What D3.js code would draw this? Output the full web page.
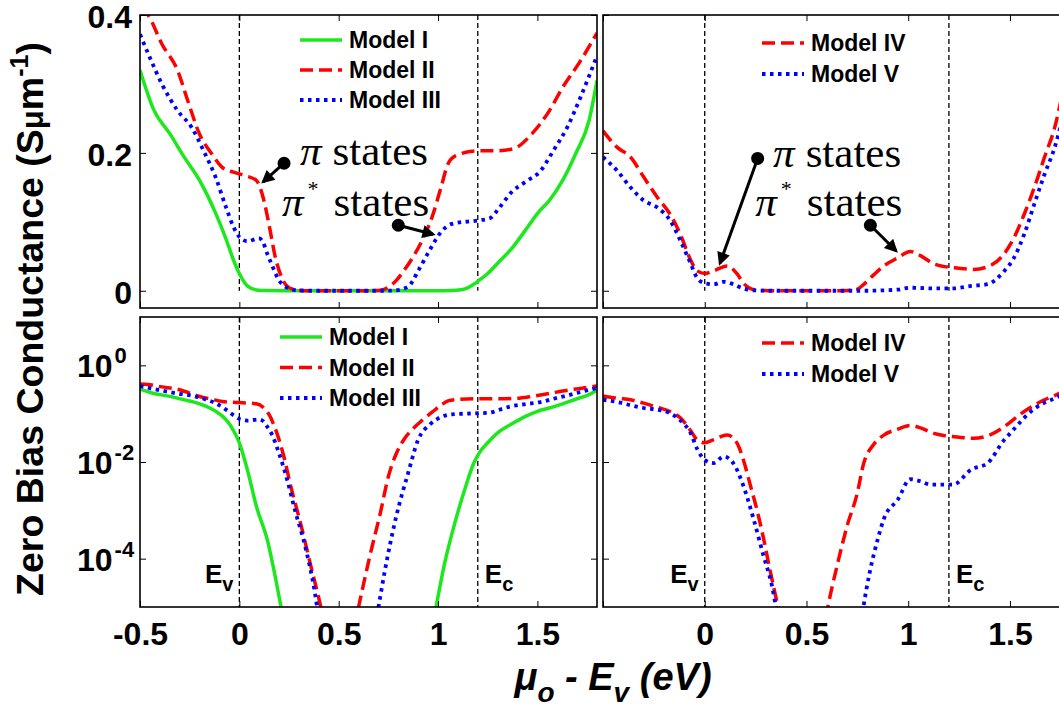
<!DOCTYPE html>
<html>
<head>
<meta charset="utf-8">
<script src="https://cdn.jsdelivr.net/npm/d3@7"></script>
<style>
  body { margin: 0; background: #fff; }
  svg text { font-family: "Liberation Sans", Arial, sans-serif; font-weight: bold; fill: #000; }
</style>
</head>
<body>
<svg id="chart" width="1059" height="709"></svg>
<script>
// zero bias conductance (S/um) vs mu_o - E_v (eV), one list of [energy, G] per model
const modelI = [[-0.5, 0.32], [-0.43, 0.262], [-0.35, 0.228], [-0.28, 0.195], [-0.2, 0.16], [-0.12, 0.113],
  [-0.067, 0.075], [-0.03, 0.045], [0, 0.025], [0.04, 0.007], [0.086, 0.0012], [0.14, 2.5e-4], [0.21, 1e-5],
  [0.3, 1e-7], [0.6, 1e-9], [0.9, 1e-7], [0.99, 1e-5], [1.03, 7e-5], [1.09, 6.6e-4], [1.14, 3.2e-3],
  [1.18, 9.5e-3], [1.21, 0.016], [1.25, 0.025], [1.3, 0.04], [1.37, 0.061], [1.44, 0.088], [1.5, 0.112],
  [1.56, 0.131], [1.627, 0.16], [1.693, 0.199], [1.76, 0.247], [1.8, 0.305]];
const modelII = [[-0.5, 0.41], [-0.46, 0.4], [-0.39, 0.358], [-0.31, 0.319], [-0.26, 0.276], [-0.2, 0.227],
  [-0.14, 0.199], [-0.086, 0.179], [-0.03, 0.172], [0.03, 0.167], [0.086, 0.16], [0.12, 0.135], [0.15, 0.095],
  [0.18, 0.05], [0.22, 0.015], [0.26, 0.003], [0.31, 5e-4], [0.36, 7e-5], [0.41, 1e-5], [0.5, 1e-7],
  [0.6, 1e-5], [0.656, 1.1e-4], [0.71, 9e-4], [0.75, 0.005], [0.79, 0.015], [0.83, 0.03], [0.87, 0.047],
  [0.92, 0.073], [0.97, 0.107], [1.015, 0.15], [1.05, 0.184], [1.09, 0.196], [1.2, 0.203], [1.29, 0.203],
  [1.38, 0.206], [1.47, 0.227], [1.56, 0.261], [1.627, 0.295], [1.716, 0.333], [1.8, 0.374]];
const modelIII = [[-0.5, 0.372], [-0.45, 0.338], [-0.39, 0.3], [-0.31, 0.261], [-0.24, 0.237], [-0.18, 0.203],
  [-0.12, 0.165], [-0.067, 0.121], [-0.03, 0.093], [0, 0.078], [0.04, 0.072], [0.1, 0.076], [0.12, 0.07],
  [0.14, 0.054], [0.16, 0.04], [0.2, 0.015], [0.24, 0.0044], [0.28, 1e-3], [0.33, 1.9e-4], [0.38, 2e-5],
  [0.4, 6e-6], [0.55, 1e-8], [0.7, 1e-5], [0.73, 5e-5], [0.79, 7.6e-4], [0.85, 6e-3], [0.9, 0.029],
  [0.96, 0.06], [1.02, 0.087], [1.07, 0.097], [1.2, 0.102], [1.26, 0.105], [1.31, 0.121], [1.37, 0.143],
  [1.44, 0.158], [1.516, 0.174], [1.58, 0.203], [1.65, 0.237], [1.716, 0.28], [1.8, 0.341]];
const modelIV = [[-0.5, 0.232], [-0.43, 0.208], [-0.365, 0.194], [-0.3, 0.165], [-0.234, 0.136], [-0.17, 0.111],
  [-0.12, 0.082], [-0.07, 0.045], [-0.038, 0.029], [0, 0.025], [0.044, 0.029], [0.11, 0.036], [0.16, 0.024],
  [0.19, 0.011], [0.225, 0.0032], [0.26, 9e-4], [0.29, 2.5e-4], [0.32, 6e-5], [0.36, 1e-5], [0.4, 1.5e-6],
  [0.5, 1e-8], [0.605, 1e-5], [0.65, 7e-5], [0.7, 4.8e-4], [0.75, 2.3e-3], [0.78, 0.009], [0.83, 0.023],
  [0.88, 0.036], [0.95, 0.048], [1.01, 0.057], [1.06, 0.051], [1.126, 0.039], [1.18, 0.035], [1.24, 0.033],
  [1.32, 0.031], [1.4, 0.036], [1.47, 0.053], [1.52, 0.077], [1.57, 0.111], [1.62, 0.15], [1.67, 0.194],
  [1.72, 0.237], [1.75, 0.275]];
const modelV = [[-0.5, 0.194], [-0.43, 0.174], [-0.365, 0.15], [-0.3, 0.131], [-0.234, 0.121], [-0.17, 0.102],
  [-0.12, 0.073], [-0.07, 0.04], [-0.038, 0.019], [0, 0.011], [0.044, 0.0095], [0.093, 0.013], [0.14, 0.0095],
  [0.19, 0.0032], [0.24, 6.6e-4], [0.29, 1.1e-4], [0.33, 2.8e-5], [0.35, 1e-5], [0.4, 1e-6], [0.55, 1e-8],
  [0.75, 1e-6], [0.78, 1e-5], [0.81, 5e-5], [0.85, 2.5e-4], [0.88, 6.6e-4], [0.95, 1.7e-3], [1.01, 4.4e-3],
  [1.06, 4e-3], [1.11, 3.4e-3], [1.22, 3.4e-3], [1.31, 7e-3], [1.39, 0.0095], [1.47, 0.028], [1.52, 0.048],
  [1.57, 0.082], [1.62, 0.126], [1.67, 0.169], [1.72, 0.208], [1.75, 0.24]];

const modelNames = ['Model I', 'Model II', 'Model III', 'Model IV', 'Model V'];
const energyTicks = [-0.5, 0, 0.5, 1, 1.5];
const linTicks = [0, 0.2, 0.4];
const logTicks = [1e-4, 1e-2, 1];
const bandEdges = [0, 1.2];        // E_v, E_c
const bandLabels = ['v', 'c'];

const energyRange = [-0.5, 1.8];
const linRange = [-0.025, 0.4];
const logRange = [1e-5, 10];

// line styles per model
const styles = {
  'Model I':   {color: '#1de81d', dash: null, width: 3.5},
  'Model II':  {color: '#ff0000', dash: '13,6', width: 3.5},
  'Model III': {color: '#0000ff', dash: '3.5,4.5', width: 3.8},
  'Model IV':  {color: '#ff0000', dash: '13,6', width: 3.5},
  'Model V':   {color: '#0000ff', dash: '3.5,4.5', width: 3.8}
};
const dataByName = {'Model I': modelI, 'Model II': modelII, 'Model III': modelIII, 'Model IV': modelIV, 'Model V': modelV};

const svg = d3.select('#chart');
const defs = svg.append('defs');
defs.append('marker')
    .attr('id', 'arrow')
    .attr('viewBox', '0 0 10 10')
    .attr('refX', 8).attr('refY', 5)
    .attr('markerWidth', 5).attr('markerHeight', 4.4)
    .attr('orient', 'auto')
  .append('path')
    .attr('d', 'M0,0L10,5L0,10z')
    .attr('fill', '#000');

const cols = [{x0: 140, x1: 597}, {x0: 603, x1: 1071}];
const rows = [{y0: 15, y1: 308, log: false}, {y0: 317, y1: 607, log: true}];

function styleAxis(g) {
  g.select('.domain').remove();
  g.selectAll('.tick line').attr('stroke', '#000').attr('stroke-width', 1);
  g.attr('font-family', null).attr('font-size', null);
}

function panel(ci, ri, names, legend, notes) {
  const c = cols[ci], r = rows[ri];
  const x = d3.scaleLinear().domain(energyRange).range([c.x0, c.x1]);
  const y = r.log
    ? d3.scaleLog().domain(logRange).range([r.y1, r.y0])
    : d3.scaleLinear().domain(linRange).range([r.y1, r.y0]);
  const clipId = 'clip' + ci + ri;
  defs.append('clipPath').attr('id', clipId)
    .append('rect')
      .attr('x', c.x0).attr('y', r.y0)
      .attr('width', c.x1 - c.x0).attr('height', r.y1 - r.y0);

  const g = svg.append('g');

  // band edge markers
  const yTop = r.log ? logRange[1] : linRange[1];
  const yBot = r.log ? logRange[0] : 0;
  g.selectAll('.edge')
    .data(bandEdges)
    .enter().append('line')
      .attr('x1', d => x(d)).attr('x2', d => x(d))
      .attr('y1', y(yTop)).attr('y2', y(yBot))
      .attr('stroke', '#000').attr('stroke-width', 1.3)
      .attr('stroke-dasharray', '5,3');

  // curves
  const line = d3.line()
      .x(d => x(d[0]))
      .y(d => y(d[1]))
      .curve(d3.curveMonotoneX);
  const curves = g.append('g').attr('clip-path', 'url(#' + clipId + ')');
  names.forEach(n => {
    const s = styles[n];
    curves.append('path')
        .datum(dataByName[n])
        .attr('d', line)
        .attr('fill', 'none')
        .attr('stroke', s.color)
        .attr('stroke-width', s.width)
        .attr('stroke-dasharray', s.dash);
  });

  // frame and inward ticks
  g.append('rect')
      .attr('x', c.x0).attr('y', r.y0)
      .attr('width', c.x1 - c.x0).attr('height', r.y1 - r.y0)
      .attr('fill', 'none').attr('stroke', '#000').attr('stroke-width', 1.6);

  const xLabel = d => (ri === 1 && !(ci === 1 && d === -0.5)) ? String(d) : '';
  const xb = g.append('g')
      .attr('transform', 'translate(0,' + r.y1 + ')')
      .call(d3.axisBottom(x).tickValues(energyTicks).tickSize(-6).tickPadding(15).tickFormat(xLabel))
      .call(styleAxis);
  xb.selectAll('text').attr('font-size', 32);
  g.append('g')
      .attr('transform', 'translate(0,' + r.y0 + ')')
      .call(d3.axisTop(x).tickValues(energyTicks).tickSize(-6).tickFormat(''))
      .call(styleAxis);

  const yTicks = r.log ? logTicks : linTicks;
  const yl = g.append('g')
      .attr('transform', 'translate(' + c.x0 + ',0)')
      .call(d3.axisLeft(y).tickValues(yTicks).tickSize(-6).tickPadding(8)
        .tickFormat(d => ci === 0 ? String(d) : ''))
      .call(styleAxis);
  if (ci === 0 && !r.log) {
    yl.selectAll('text').attr('font-size', 32).attr('dy', '0.4em');
  }
  if (ci === 0 && r.log) {
    // MATLAB style 10^n labels, left aligned
    yl.selectAll('.tick text').each(function(d) {
      const t = d3.select(this).text(null)
          .attr('font-size', 32).attr('text-anchor', 'start').attr('x', -63).attr('dy', '0.36em');
      t.append('tspan').text('10');
      t.append('tspan').attr('dy', -14).attr('dx', 2).attr('font-size', 22).text(Math.round(Math.log10(d)));
    });
  }
  g.append('g')
      .attr('transform', 'translate(' + c.x1 + ',0)')
      .call(d3.axisRight(y).tickValues(yTicks).tickSize(-6).tickFormat(''))
      .call(styleAxis);

  // E_v / E_c labels
  if (r.log) {
    bandEdges.forEach((e, i) => {
      const t = g.append('text')
          .attr('x', i === 0 ? x(e) - 6 : x(e) + 7)
          .attr('y', r.y1 - 24)
          .attr('text-anchor', i === 0 ? 'end' : 'start')
          .attr('font-size', 26);
      t.append('tspan').text('E');
      t.append('tspan').attr('dy', 8).attr('font-size', 20).text(bandLabels[i]);
    });
  }

  // legend
  const lg = g.append('g');
  names.forEach((n, i) => {
    const s = styles[n];
    const ly = r.y0 + legend.top + i * legend.step;
    lg.append('line')
        .attr('x1', c.x0 + legend.left).attr('x2', c.x0 + legend.left + 42)
        .attr('y1', ly).attr('y2', ly)
        .attr('stroke', s.color).attr('stroke-width', s.width)
        .attr('stroke-dasharray', s.dash);
    lg.append('text')
        .attr('x', c.x0 + legend.left + 49)
        .attr('y', ly + 8)
        .attr('font-size', 23)
        .text(n);
  });

  // pi / pi* annotations
  if (notes) {
    const t1 = g.append('text')
        .attr('x', x(notes.pi[0])).attr('y', y(notes.pi[1]))
        .style('font-family', '"Liberation Serif", "Times New Roman", serif')
        .style('font-weight', 'normal')
        .attr('font-size', 43);
    t1.append('tspan').style('font-style', 'italic').text('\u03c0');
    t1.append('tspan').attr('dx', 11).text('states');
    const t2 = g.append('text')
        .attr('x', x(notes.piStar[0])).attr('y', y(notes.piStar[1]))
        .style('font-family', '"Liberation Serif", "Times New Roman", serif')
        .style('font-weight', 'normal')
        .attr('font-size', 43);
    t2.append('tspan').style('font-style', 'italic').text('\u03c0');
    t2.append('tspan').attr('dy', -20).attr('dx', 4).attr('font-size', 22).text('*');
    t2.append('tspan').attr('dy', 20).attr('dx', 15).text('states');
    notes.arrows.forEach(a => {
      g.append('line')
          .attr('x1', x(a[0][0])).attr('y1', y(a[0][1]))
          .attr('x2', x(a[1][0])).attr('y2', y(a[1][1]))
          .attr('stroke', '#000').attr('stroke-width', 3)
          .attr('marker-end', 'url(#arrow)');
      g.append('circle')
          .attr('cx', x(a[0][0])).attr('cy', y(a[0][1]))
          .attr('r', 6.5).attr('fill', '#000');
    });
  }
}

// annotation anchors, in data coordinates of their panel
const notesLeft = {pi: [0.305, 0.182], piStar: [0.215, 0.108],
  arrows: [[[0.225, 0.185], [0.12, 0.158]], [[0.80, 0.095], [0.975, 0.082]]]};
const notesRight = {pi: [0.336, 0.18], piStar: [0.248, 0.108],
  arrows: [[[0.26, 0.192], [0.075, 0.04]], [[0.814, 0.095], [0.94, 0.058]]]};

panel(0, 0, modelNames.slice(0, 3), {left: 160, top: 25, step: 30}, notesLeft);
panel(1, 0, modelNames.slice(3), {left: 159, top: 28, step: 31}, notesRight);
panel(0, 1, modelNames.slice(0, 3), {left: 140, top: 20, step: 30.5}, null);
panel(1, 1, modelNames.slice(3), {left: 159, top: 26, step: 31}, null);

// axis titles
const yTitle = svg.append('text')
    .attr('transform', 'translate(43,319) rotate(-90)')
    .attr('text-anchor', 'middle')
    .attr('font-size', 37.5);
yTitle.append('tspan').text('Zero Bias Conductance (S');
yTitle.append('tspan').attr('font-size', 31).text('\u03bc');
yTitle.append('tspan').text('m');
yTitle.append('tspan').attr('dy', -15).attr('font-size', 25).text('-1');
yTitle.append('tspan').attr('dy', 15).text(')');

const xTitle = svg.append('text')
    .attr('x', 613).attr('y', 690)
    .attr('text-anchor', 'middle')
    .attr('font-size', 38)
    .style('font-style', 'italic');
xTitle.append('tspan').text('\u03bc');
xTitle.append('tspan').attr('dy', 12).attr('font-size', 28).text('o');
xTitle.append('tspan').attr('dy', -12).text(' - E');
xTitle.append('tspan').attr('dy', 12).attr('font-size', 28).text('v');
xTitle.append('tspan').attr('dy', -12).text(' (eV)');
</script>
</body>
</html>
